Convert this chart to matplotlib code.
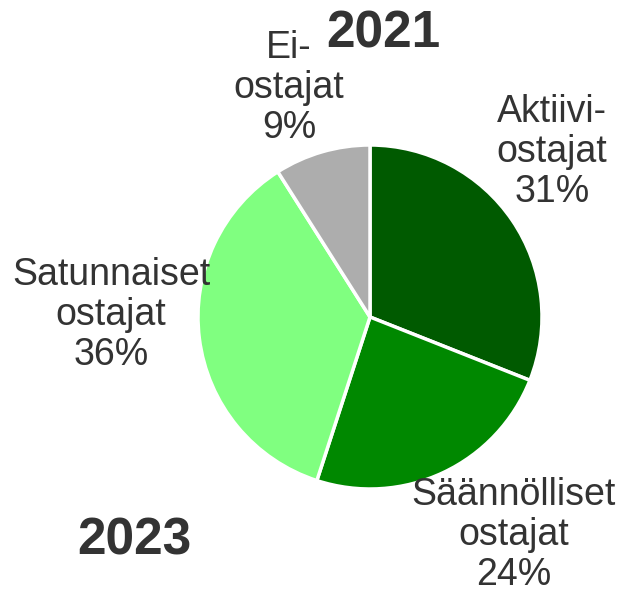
import matplotlib.pyplot as plt

# Data
categories = ['Aktiivi-\nostajat', 'Säännölliset\nostajat', 'Satunnaiset\nostajat', 'Ei-\nostajat']
shares = [31, 24, 36, 9]
colors = ['#005a00', '#008800', '#80ff80', '#adadad']
year_top = '2021'
year_bottom = '2023'

plt.rcParams['font.family'] = ['Liberation Sans', 'DejaVu Sans']
text_color = '#333333'

W, H = 623, 592
fig = plt.figure(figsize=(W / 100, H / 100), dpi=100)
ax = fig.add_axes([0, 0, 1, 1])

# pie in pixel coordinates (y measured from bottom)
ax.pie(shares, colors=colors, startangle=90, counterclock=False,
       center=(370, H - 317), radius=172, frame=True,
       wedgeprops=dict(edgecolor='white', linewidth=2.5))
ax.set_xlim(0, W)
ax.set_ylim(0, H)
ax.set_aspect('auto')
ax.axis('off')

# label anchors (pixels from top-left)
label_pos = [(552, 152), (514, 535), (111, 315), (289, 88)]
for cat, val, (px, py) in zip(categories, shares, label_pos):
    ax.text(px, H - py, f'{cat}\n{val}%', ha='center', va='center',
            fontsize=27, color=text_color, linespacing=1.15)

ax.text(383, H - 34, year_top, ha='center', va='center',
        fontsize=37, fontweight='bold', color=text_color)
ax.text(134, H - 541, year_bottom, ha='center', va='center',
        fontsize=37, fontweight='bold', color=text_color)

fig.savefig('out.png', dpi=100)
